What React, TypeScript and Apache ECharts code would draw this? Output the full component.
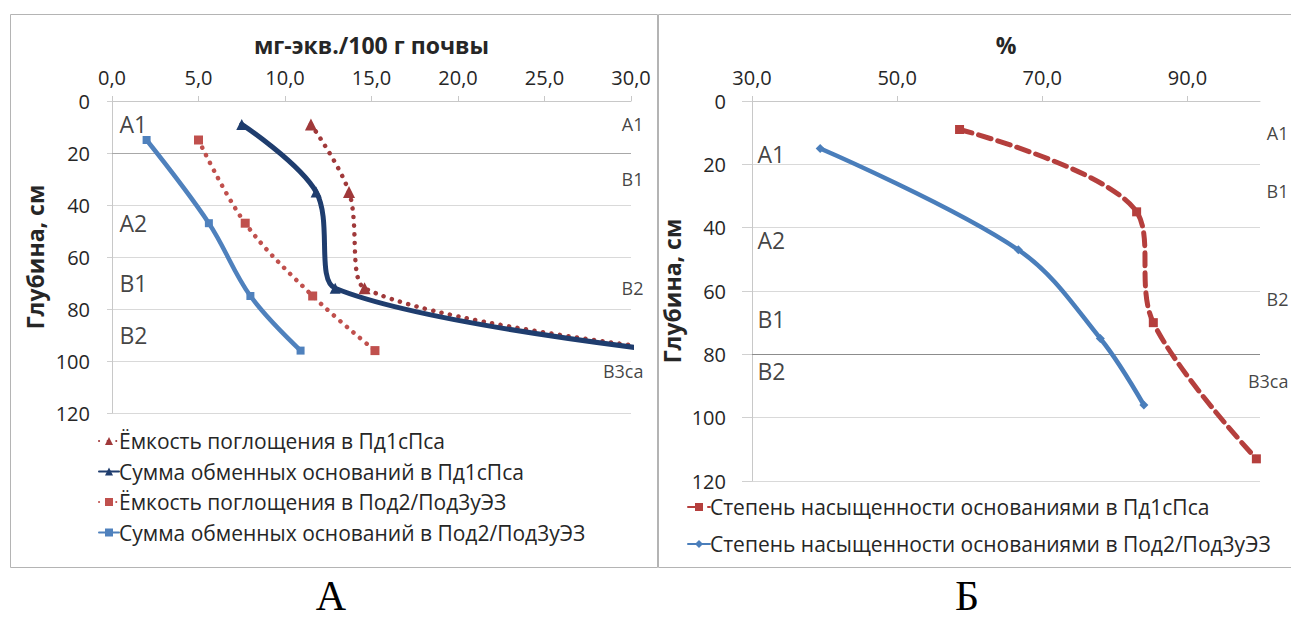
import React, { useEffect, useRef } from 'react';
import * as echarts from 'echarts';

// ---- Chart A data (мг-экв./100 г почвы vs depth, cm) ----
const depthPd = [9, 35, 72, 113];
const capacityPd = [11.5, 13.7, 14.6, 59.5];
const sumPd = [7.5, 11.8, 12.9, 58.5];
const depthPod = [15, 47, 75, 96];
const capacityPod = [5.0, 7.7, 11.6, 15.2];
const sumPod = [2.0, 5.6, 8.0, 10.9];

// ---- Chart Б data (% saturation vs depth, cm) ----
const satDepthPd = [9, 35, 70, 113];
const saturationPd = [58.6, 83.0, 85.3, 99.5];
const satDepthPod = [15, 47, 75, 96];
const saturationPod = [39.4, 66.7, 78.0, 84.0];

// ---- Horizon annotations ----
const aLeftHorizons = ['А1', 'А2', 'В1', 'В2'];
const aLeftDepths = [9, 47, 70, 90];
const aRightHorizons = ['А1', 'В1', 'В2', 'В3са'];
const aRightDepths = [9, 30, 72, 104];
const bLeftHorizons = ['А1', 'А2', 'В1', 'В2'];
const bLeftDepths = [17, 44, 69, 85.5];
const bRightHorizons = ['А1', 'В1', 'В2', 'В3са'];
const bRightDepths = [10.4, 28.7, 62.8, 88.6];

const depthTicks = [0, 20, 40, 60, 80, 100, 120];

const nameCapPd = 'Ёмкость поглощения в Пд1сПса';
const nameSumPd = 'Сумма обменных оснований в Пд1сПса';
const nameCapPod = 'Ёмкость поглощения в Под2/Под3уЭЗ';
const nameSumPod = 'Сумма обменных оснований в Под2/Под3уЭЗ';
const nameSatPd = 'Степень насыщенности основаниями в Пд1сПса';
const nameSatPod = 'Степень насыщенности основаниями в Под2/Под3уЭЗ';

const FONT = 'Open Sans';
const TXT = '#262626';

const pairs = (xs: number[], ys: number[]) => xs.map((x, i) => [x, ys[i]]);

export default function App() {
  const ref = useRef<HTMLDivElement>(null);
  useEffect(() => {
    if (!ref.current) return;
    const chart = echarts.init(ref.current, null, { renderer: 'svg' });

    const comma = (v: number) => v.toFixed(1).replace('.', ',');

    const xAxisBase = (grid: number, min: number, max: number, interval: number, name: string) => ({
      type: 'value',
      gridIndex: grid,
      position: 'top',
      min,
      max,
      interval,
      name,
      nameLocation: 'middle',
      nameGap: 45,
      nameTextStyle: { fontFamily: FONT, fontWeight: 'bold', fontSize: 23, color: TXT },
      axisLine: { show: true, lineStyle: { color: '#C8C8C8' } },
      axisTick: { show: true, length: 5, lineStyle: { color: '#C8C8C8' } },
      axisLabel: { formatter: comma, margin: 14, fontFamily: FONT, fontSize: 20, color: TXT, showMaxLabel: max === 30 },
      splitLine: { show: false },
    });

    const yAxisBase = (grid: number, nameGap: number, tickLen: number, margin: number) => ({
      type: 'value',
      gridIndex: grid,
      inverse: true,
      min: depthTicks[0],
      max: depthTicks[depthTicks.length - 1],
      interval: depthTicks[1] - depthTicks[0],
      name: 'Глубина, см',
      nameLocation: 'middle',
      nameGap,
      nameTextStyle: { fontFamily: FONT, fontWeight: 'bold', fontSize: 23, color: TXT },
      axisLine: { show: true, lineStyle: { color: '#C8C8C8' } },
      axisTick: { show: true, length: tickLen, lineStyle: { color: '#D0D0D0' } },
      axisLabel: { margin, fontFamily: FONT, fontSize: 20, color: TXT },
      splitLine: { show: true, lineStyle: { color: '#D9D9D9', width: 1 } },
    });

    const lineSeries = (
      name: string, xi: number, xs: number[], ys: number[], color: string,
      type: any, width: number, symbol: string, symbolSize: number, extra: any = {}
    ) => ({
      type: 'line',
      name,
      xAxisIndex: xi,
      yAxisIndex: xi,
      data: pairs(xs, ys),
      smooth: 0.35,
      clip: true,
      symbol,
      symbolSize,
      showSymbol: true,
      itemStyle: { color },
      lineStyle: { color, width, type, cap: 'round' },
      z: 3,
      ...extra,
    });

    const labelSeries = (
      xi: number, xVal: number, labels: string[], depths: number[], size: number,
      right: boolean, offset: number
    ) => ({
      type: 'scatter',
      name: 'labels' + xi + (right ? 'r' : 'l'),
      xAxisIndex: xi,
      yAxisIndex: xi,
      symbolSize: 1,
      clip: false,
      silent: true,
      itemStyle: { color: 'rgba(0,0,0,0)' },
      data: labels.map((l, i) => ({ name: l, value: [xVal, depths[i]] })),
      label: {
        show: true,
        formatter: (p: any) => p.name,
        position: [offset, 0],
        align: right ? 'right' : 'left',
        verticalAlign: 'middle',
        fontFamily: FONT,
        fontSize: size,
        color: '#111',
      },
      z: 5,
    });

    const option: any = {
      animation: false,
      backgroundColor: '#ffffff',
      grid: [
        { left: 112, top: 101, width: 519, height: 312 },
        { left: 752, top: 101, width: 508, height: 380 },
      ],
      xAxis: [
        xAxisBase(0, 0, 30, 5, 'мг-экв./100 г почвы'),
        xAxisBase(1, 30, 100, 20, '%'),
      ],
      yAxis: [yAxisBase(0, 66, 5, 22), yAxisBase(1, 69, 10, 26)],
      legend: [
        {
          orient: 'vertical',
          left: 93,
          top: 424,
          itemWidth: 20,
          itemHeight: 10,
          itemGap: 6.5,
          data: [nameCapPd, nameSumPd, nameCapPod, nameSumPod],
          textStyle: { fontFamily: FONT, fontSize: 21, color: TXT, lineHeight: 24, padding: [0, 0, 0, -5] },
        },
        {
          orient: 'vertical',
          left: 682,
          top: 490,
          itemWidth: 22,
          itemHeight: 10,
          itemGap: 13,
          data: [nameSatPd, nameSatPod],
          textStyle: { fontFamily: FONT, fontSize: 21, color: TXT, lineHeight: 24, padding: [0, 0, 0, -5] },
        },
      ],
      graphic: [
        { type: 'rect', shape: { x: 10.5, y: 14.5, width: 647, height: 553 }, style: { fill: 'none', stroke: '#B4B4B4', lineWidth: 1 }, z: -1 },
        { type: 'rect', shape: { x: 658.5, y: 14.5, width: 640, height: 553 }, style: { fill: 'none', stroke: '#B4B4B4', lineWidth: 1 }, z: -1 },
        { type: 'text', x: 331, y: 617, style: { text: 'А', font: '42px "Liberation Serif"', fill: '#000', textAlign: 'center', textVerticalAlign: 'bottom' } },
        { type: 'text', x: 967, y: 617, style: { text: 'Б', font: '42px "Liberation Serif"', fill: '#000', textAlign: 'center', textVerticalAlign: 'bottom' } },
      ],
      series: [
        lineSeries(nameCapPd, 0, capacityPd, depthPd, '#A0393A', [0.1, 8.5], 4.5, 'triangle', 12, {
          markLine: {
            silent: true, symbol: 'none', label: { show: false },
            lineStyle: { color: '#A8A8A8', type: 'solid', width: 1 },
            data: [{ yAxis: depthTicks[1] }],
            z: 1,
          },
        }),
        lineSeries(nameSumPd, 0, sumPd, depthPd, '#1F3D6E', 'solid', 5, 'triangle', 11),
        lineSeries(nameCapPod, 0, capacityPod, depthPod, '#C0504D', [0.1, 8.5], 4.5, 'rect', 9),
        lineSeries(nameSumPod, 0, sumPod, depthPod, '#4F81BD', 'solid', 4.5, 'rect', 8),
        lineSeries(nameSatPd, 1, saturationPd, satDepthPd, '#B53F3D', [13, 7], 5, 'rect', 9, {
          markLine: {
            silent: true, symbol: 'none', label: { show: false },
            lineStyle: { color: '#8C8C8C', type: 'solid', width: 1 },
            data: [{ yAxis: depthTicks[4] }],
            z: 1,
          },
        }),
        lineSeries(nameSatPod, 1, saturationPod, satDepthPod, '#4A7EBB', 'solid', 4.5, 'diamond', 9),
        labelSeries(0, 0, aLeftHorizons, aLeftDepths, 23, false, 8),
        labelSeries(0, 30, aRightHorizons, aRightDepths, 18, true, 13),
        labelSeries(1, 30, bLeftHorizons, bLeftDepths, 23, false, 6),
        labelSeries(1, 100, bRightHorizons, bRightDepths, 18, true, 29),
      ],
    };

    chart.setOption(option);
    return () => chart.dispose();
  }, []);

  return (
    <div
      ref={ref}
      style={{ position: 'absolute', left: 0, top: 0, width: 1291, height: 618, background: '#fff' }}
    />
  );
}
